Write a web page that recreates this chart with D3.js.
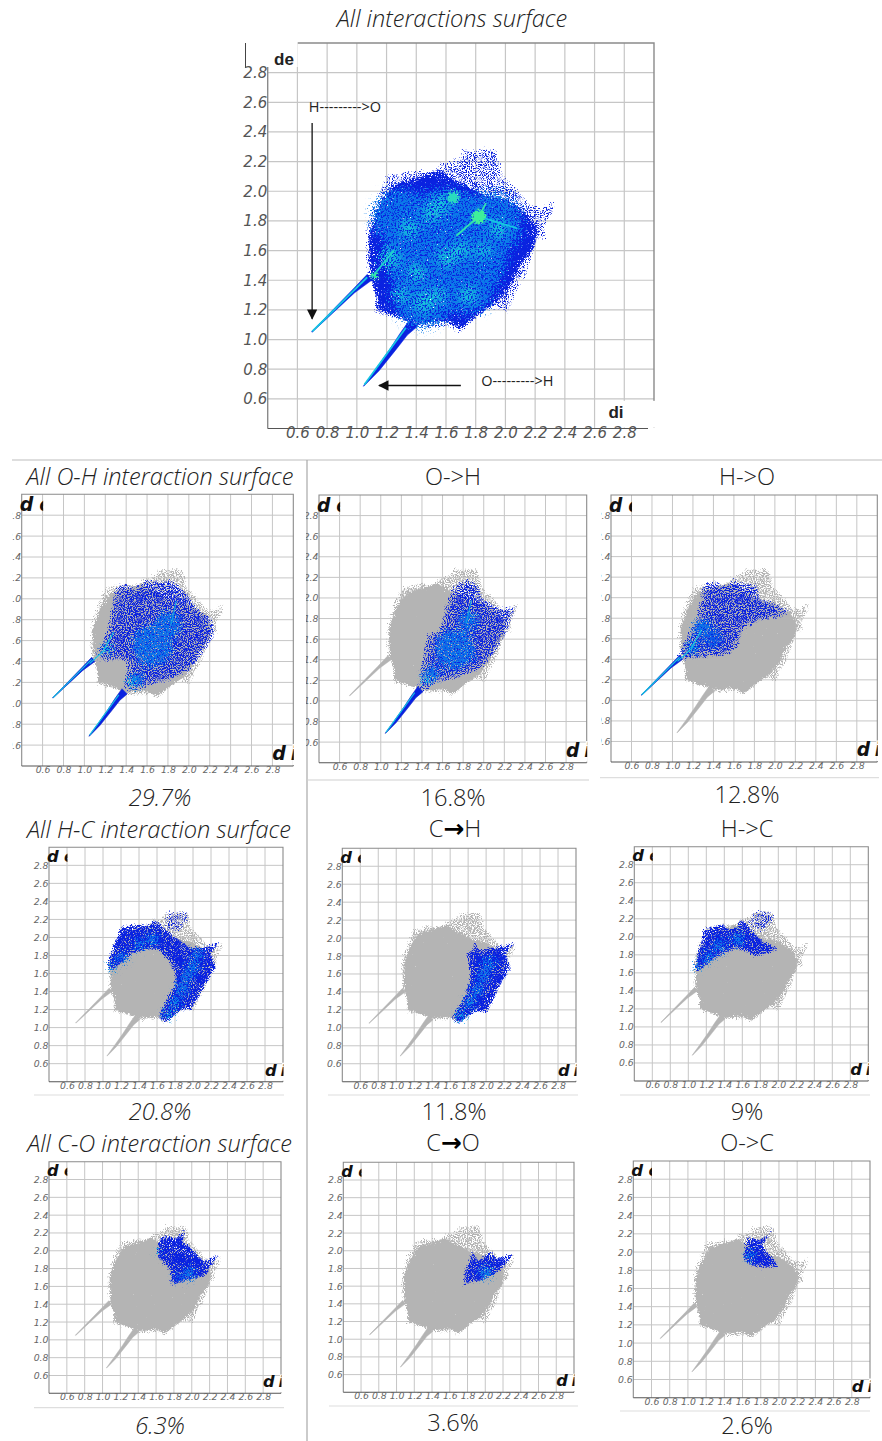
<!DOCTYPE html>
<html><head><meta charset="utf-8">
<script src="https://cdn.jsdelivr.net/npm/d3@7/dist/d3.min.js"></script>
<style>html,body{margin:0;padding:0;background:#fff}svg{display:block}</style>
</head><body><div id="c"></div>
<script>
// ---- values (di, de in Å) ----
const axisDomain = [0.4, 3.0];
const tickLabels = ["0.6","0.8","1.0","1.2","1.4","1.6","1.8","2.0","2.2","2.4","2.6","2.8"];

const silhouetteOutline = [[1.077,1.422],[1.061,1.534],[1.066,1.736],[1.088,1.825],[1.133,1.96],[1.2,2.105],[1.312,2.128],[1.413,2.15],[1.536,2.117],[1.559,2.217],[1.603,2.195],[1.693,2.24],[1.715,2.296],[1.783,2.273],[1.872,2.296],[1.939,2.285],[1.973,2.217],[1.984,2.117],[2.096,2.005],[2.163,1.915],[2.242,1.893],[2.342,1.96],[2.331,1.87],[2.264,1.758],[2.286,1.669],[2.208,1.657],[2.186,1.557],[2.141,1.422],[2.074,1.31],[2.018,1.176],[1.895,1.22],[1.783,1.109],[1.693,1.041],[1.626,1.086],[1.536,1.075],[1.413,1.075],[1.346,1.131],[1.223,1.153],[1.122,1.171],[1.133,1.288],[1.106,1.377]];
const silhouetteCore = [[1.09,1.42],[1.08,1.7],[1.15,1.9],[1.25,2.05],[1.42,2.1],[1.55,2.15],[1.62,2.1],[1.72,2.05],[1.85,1.98],[2.0,1.95],[2.15,1.85],[2.22,1.75],[2.2,1.62],[2.1,1.5],[2.05,1.38],[1.95,1.25],[1.8,1.15],[1.7,1.07],[1.6,1.12],[1.4,1.1],[1.2,1.18],[1.13,1.2],[1.13,1.3]];
const spikeUpper = [[0.695,1.052],[0.97,1.335],[1.07,1.44],[1.10,1.40],[0.985,1.315],[0.70,1.05]];
const spikeLower = [[1.043,0.685],[1.13,0.805],[1.225,0.94],[1.29,1.04],[1.36,1.14],[1.41,1.09],[1.34,1.03],[1.27,0.94],[1.15,0.79],[1.05,0.688]];

const blueAllOH = [[1.10,1.397],[1.417,1.413],[1.387,1.142],[1.419,1.104],[1.594,1.158],[1.784,1.206],[2.006,1.30],[2.15,1.49],[2.26,1.668],[2.228,1.81],[2.07,1.923],[2.006,2.035],[1.864,2.178],[1.784,2.178],[1.594,2.178],[1.467,2.1],[1.403,2.147],[1.308,2.13],[1.276,1.94],[1.213,1.652],[1.118,1.46]];
const blueOtoH = [[1.344,1.074],[1.424,1.445],[1.457,1.655],[1.569,1.671],[1.634,1.929],[1.73,2.139],[1.859,2.187],[1.956,2.12],[2.0,1.99],[2.15,1.897],[2.326,1.929],[2.278,1.8],[2.23,1.67],[2.117,1.477],[1.988,1.316],[1.73,1.213],[1.553,1.181],[1.457,1.106]];
const blueHtoO = [[1.041,1.411],[1.236,1.80],[1.285,2.028],[1.317,2.141],[1.414,2.164],[1.495,2.109],[1.56,2.141],[1.593,2.19],[1.723,2.141],[1.836,2.125],[1.852,1.995],[2.047,1.93],[2.177,1.866],[2.047,1.80],[1.852,1.775],[1.674,1.67],[1.658,1.525],[1.56,1.444],[1.30,1.411],[1.09,1.395]];
const blueAllHC = [[1.054,1.709],[1.09,1.82],[1.164,2.023],[1.2,2.116],[1.40,2.153],[1.53,2.134],[1.566,2.208],[1.658,2.134],[1.804,2.005],[1.987,1.894],[2.134,1.894],[2.317,1.957],[2.207,1.82],[2.262,1.672],[2.152,1.487],[1.987,1.19],[1.877,1.19],[1.694,1.044],[1.62,1.10],[1.658,1.228],[1.786,1.45],[1.804,1.598],[1.731,1.746],[1.62,1.857],[1.511,1.868],[1.328,1.82],[1.182,1.69],[1.09,1.617]];
const blueCtoH = [[1.873,2.01],[1.928,1.862],[2.04,1.899],[2.188,1.917],[2.337,1.954],[2.225,1.824],[2.28,1.657],[2.15,1.453],[2.02,1.175],[1.873,1.175],[1.687,1.038],[1.624,1.119],[1.78,1.379],[1.828,1.60],[1.791,1.824],[1.873,1.899]];
const blueHtoC = [[1.075,1.669],[1.112,1.834],[1.186,2.092],[1.39,2.148],[1.446,2.092],[1.557,2.11],[1.576,2.221],[1.669,2.129],[1.798,1.982],[2.021,1.86],[1.873,1.816],[1.743,1.779],[1.65,1.834],[1.539,1.871],[1.39,1.816],[1.205,1.687],[1.112,1.613]];
const blueAllCO = [[1.616,1.977],[1.646,2.164],[1.739,2.164],[1.832,2.145],[1.944,2.257],[1.907,2.108],[2.0,2.033],[2.13,1.883],[2.316,1.965],[2.205,1.808],[2.167,1.715],[1.981,1.677],[1.776,1.61],[1.765,1.771],[1.683,1.864],[1.616,1.92]];
const blueCtoO = [[1.752,1.615],[1.771,1.766],[1.865,2.01],[1.921,1.879],[2.053,2.01],[2.128,1.916],[2.323,1.961],[2.203,1.803],[2.109,1.728],[1.921,1.653]];
const blueOtoC = [[1.612,1.968],[1.66,2.169],[1.788,2.133],[1.952,2.254],[1.824,2.078],[2.007,1.839],[1.824,1.821],[1.696,1.858],[1.623,1.913]];
const blueCapHC = [[1.66,2.13],[1.72,2.29],[1.95,2.29],[1.97,2.2],[1.85,2.05],[1.75,2.05]];

// density spots: di, de, radius in di, colour level
const hotMain = [[1.6,1.6,0.42,1.1],[1.3,1.82,0.2,1.1],[1.9,1.78,0.22,1.1],[1.45,1.3,0.22,1.1],[1.75,1.35,0.18,1.1],
 [1.22,1.55,0.07,2.1],[1.35,1.75,0.06,2.1],[1.5,1.85,0.06,2.1],[1.45,1.25,0.07,2.1],[1.6,1.55,0.06,2.1],[1.95,1.75,0.06,2.1],[1.75,1.3,0.06,2.1],[1.4,1.45,0.06,2.1],[1.7,1.6,0.06,2.1],[1.57,1.92,0.06,2.1],[1.85,1.6,0.05,2.1],[1.3,1.3,0.05,2.1],[1.55,1.3,0.05,2.1],
 [1.65,1.96,0.028,2.5],[1.82,1.83,0.035,3],[1.12,1.43,0.014,2.8]];
const hotAllOH = [[1.65,1.55,0.2,1],[1.8,1.75,0.13,1],[1.5,1.22,0.08,1],[1.45,1.2,0.04,1.9],[1.22,1.52,0.05,1.5]];
const hotOtoH = [[1.72,1.5,0.2,1],[1.85,1.78,0.1,1],[1.5,1.27,0.08,1],[1.44,1.2,0.04,1.9]];
const hotHtoO = [[1.3,1.7,0.1,1],[1.2,1.52,0.07,1.2],[1.4,1.6,0.1,0.7]];
const hotAllHC = [[1.1,1.68,0.05,1.3],[1.22,1.78,0.07,1],[1.4,1.92,0.07,1],[1.55,1.98,0.08,1],[1.73,1.15,0.06,1.4],[1.8,1.28,0.07,1.2],[1.88,1.42,0.08,1],[1.93,1.56,0.08,1],[2.0,1.68,0.08,1],[2.05,1.82,0.07,1]];
const hotCtoH = [[1.72,1.14,0.06,1.5],[1.82,1.28,0.07,1.2],[1.9,1.42,0.08,1],[1.97,1.58,0.08,1],[2.03,1.72,0.08,1]];
const hotHtoC = [[1.1,1.68,0.05,1.3],[1.22,1.78,0.07,1],[1.35,1.9,0.08,1],[1.55,1.97,0.08,1.1]];
const hotAllCO = [[1.63,1.97,0.03,1.9],[1.97,1.74,0.08,1],[1.85,1.7,0.05,0.8]];
const hotCtoO = [[2.0,1.75,0.08,1.1],[2.02,1.75,0.02,1.9]];
const hotOtoC = [[1.66,1.98,0.035,1.9],[1.7,1.95,0.06,1]];

// bright ridges: polyline, colour level
const ridgeUpper = [[0.7,1.055],[1.07,1.42]];
const ridgeLower = [[1.05,0.695],[1.33,1.08]];
const ridgeInnerH = [[1.05,1.38],[1.18,1.5],[1.28,1.68]];
const ridgeInnerO = [[1.83,1.75],[1.88,1.98]];
const ridgeMainA = [[1.67,1.7],[1.82,1.83],[1.87,1.92]];
const ridgeMainB = [[1.82,1.83],[2.08,1.75]];
const ridgeMainC = [[1.1,1.42],[1.25,1.6]];

const labelsH2O = "H--------->O";
const labelsO2H = "O--------->H";

// ---- page layout ----
const W = 882, H = 1441;
const GRAY = "#b4b4b4", FONT = "'Open Sans','Noto Sans',sans-serif";
const colorOf = d3.scaleLinear().domain([0,1,2,3]).range(["#0a22e0","#0a72ea","#14c6e2","#3ff09a"]);

const panels = [
 {id:"main",l:267.7,r:654,t:43,b:428.5,main:true,blue:[silhouetteOutline],hot:hotMain,spikes:[spikeUpper,spikeLower],ridges:[[ridgeUpper,2],[ridgeLower,2],[ridgeMainA,2.7],[ridgeMainB,2],[ridgeMainC,2.3]]},
 {id:"a",l:21.7,r:293.3,t:494.3,b:766,clip:12.3,grainId:"gBlueThin",blue:[blueAllOH],hot:hotAllOH,spikes:[spikeUpper,spikeLower],ridges:[[ridgeUpper,2],[ridgeLower,2],[ridgeInnerH,2],[ridgeInnerO,1.6]]},
 {id:"b",l:319,r:586.7,t:495,b:762.7,clip:306,grainId:"gBlueThin",blue:[blueOtoH],hot:hotOtoH,spikes:[spikeLower],ridges:[[ridgeLower,2],[ridgeInnerO,1.6]]},
 {id:"c",l:611,r:877.3,t:495,b:762,clip:601,grainId:"gBlueThin",blue:[blueHtoO],hot:hotHtoO,spikes:[spikeUpper],ridges:[[ridgeUpper,2],[ridgeInnerH,2]]},
 {id:"d",l:49,r:283,t:847.3,b:1081.7,blue:[blueAllHC],sparse:[blueCapHC],hot:hotAllHC,spikes:[],ridges:[]},
 {id:"e",l:342.3,r:576,t:848.3,b:1081.7,blue:[blueCtoH],hot:hotCtoH,spikes:[],ridges:[]},
 {id:"f",l:634.3,r:868.3,t:846.7,b:1081,blue:[blueHtoC],sparse:[blueCapHC],hot:hotHtoC,spikes:[],ridges:[]},
 {id:"g",l:49,r:281,t:1161.7,b:1393.3,blue:[blueAllCO],hot:hotAllCO,spikes:[],ridges:[]},
 {id:"h",l:343.3,r:574,t:1162.3,b:1392.3,blue:[blueCtoO],hot:hotCtoO,spikes:[],ridges:[]},
 {id:"i",l:633.3,r:870,t:1161,b:1397.7,blue:[blueOtoC],hot:hotOtoC,spikes:[],ridges:[]}
];

const TS = 23.6;
const titles = [
 ["All interactions surface",452,27,true],
 ["All O-H interaction surface",160,485,true],["O->H",453,485,false],["H->O",747,485,false],
 ["29.7%",160,806,true],["16.8%",453,806,false],["12.8%",747,803,false],
 ["All H-C interaction surface",159,838,true],["H->C",747,837,false],
 ["20.8%",160,1120,true],["11.8%",454,1120,false],["9%",747,1120,false],
 ["All C-O interaction surface",159.5,1152,true],["O->C",747,1151,false],
 ["6.3%",160,1433.5,true],["3.6%",453,1431,false],["2.6%",747,1434,false]
];
const arrowTitles = [["C","H",455,837],["C","O",453,1151]];
const rules = [[12,460,882,460,"#bdbdbd"],[307,460,307,1441,"#a8a8a8"],[307,780,589,780,"#cfcfcf"],[600,777.7,879,777.7,"#dedede"],
 [34,1095,284,1095,"#dedede"],[328,1095,578,1095,"#dedede"],[620,1095,870,1095,"#dedede"],
 [34,1407.7,284,1407.7,"#dedede"],[329,1406,578,1406,"#dedede"],[620,1411,870,1411,"#dedede"]];

const svg = d3.select("#c").append("svg").attr("width",W).attr("height",H).attr("viewBox",`0 0 ${W} ${H}`);
const defs = svg.append("defs");

// stippled look: edge-roughened shape whose dots thin out towards its border
function grain(id,{seed,freq,disp,blur,gain,thresh}){
  const f = defs.append("filter").attr("id",id).attr("x","-8%").attr("y","-8%").attr("width","116%").attr("height","116%")
    .attr("color-interpolation-filters","sRGB");
  f.append("feTurbulence").attr("type","fractalNoise").attr("baseFrequency",freq).attr("numOctaves",2).attr("seed",seed).attr("result","n");
  f.append("feDisplacementMap").attr("in","SourceGraphic").attr("in2","n").attr("scale",disp).attr("xChannelSelector","R").attr("yChannelSelector","G").attr("result","d");
  f.append("feColorMatrix").attr("in","n").attr("type","matrix").attr("values","0 0 0 0 0 0 0 0 0 0 0 0 0 0 0 1 0 0 0 0").attr("result","na");
  f.append("feGaussianBlur").attr("in","d").attr("stdDeviation",blur).attr("result","ba");
  f.append("feComposite").attr("in","na").attr("in2","ba").attr("operator","arithmetic").attr("k1",0).attr("k2",1).attr("k3",gain).attr("k4",0).attr("result","sum");
  const t = f.append("feComponentTransfer").attr("in","sum").attr("result","mask");
  t.append("feFuncA").attr("type","linear").attr("slope",7).attr("intercept",-7*thresh+0.5);
  f.append("feComposite").attr("in","d").attr("in2","mask").attr("operator","in").attr("result","o");
  f.append("feGaussianBlur").attr("in","o").attr("stdDeviation",0.3);
}
// soft density clouds: blurred spots kept in full colour and cut into dots
function cloud(id,{seed,freq,blur,gain,thresh}){
  const f = defs.append("filter").attr("id",id).attr("x","-30%").attr("y","-30%").attr("width","160%").attr("height","160%")
    .attr("color-interpolation-filters","sRGB");
  f.append("feTurbulence").attr("type","fractalNoise").attr("baseFrequency",freq).attr("numOctaves",2).attr("seed",seed).attr("result","n");
  f.append("feColorMatrix").attr("in","n").attr("type","matrix").attr("values","0 0 0 0 0 0 0 0 0 0 0 0 0 0 0 1 0 0 0 0").attr("result","na");
  f.append("feGaussianBlur").attr("in","SourceGraphic").attr("stdDeviation",blur).attr("result","b");
  f.append("feComposite").attr("in","na").attr("in2","b").attr("operator","arithmetic").attr("k1",0).attr("k2",1).attr("k3",gain).attr("k4",0).attr("result","sum");
  const t = f.append("feComponentTransfer").attr("in","sum").attr("result","mask");
  t.append("feFuncA").attr("type","linear").attr("slope",7).attr("intercept",-7*thresh+0.5);
  const s = f.append("feComponentTransfer").attr("in","b").attr("result","solid");
  s.append("feFuncA").attr("type","linear").attr("slope",8);
  f.append("feComposite").attr("in","solid").attr("in2","mask").attr("operator","in").attr("result","o");
  f.append("feGaussianBlur").attr("in","o").attr("stdDeviation",0.35);
}
grain("gFringe",{seed:3,freq:0.9,disp:5,blur:2.5,gain:0.3,thresh:0.78});
grain("gDense",{seed:8,freq:0.9,disp:6,blur:2,gain:0.5,thresh:0.62});
grain("gBlue",{seed:5,freq:0.95,disp:6,blur:2.5,gain:0.3,thresh:0.67});
grain("gBlueThin",{seed:5,freq:0.95,disp:6,blur:5,gain:0.26,thresh:0.72});
grain("gSparse",{seed:11,freq:0.95,disp:4,blur:3,gain:0.3,thresh:0.84});
grain("gMain",{seed:4,freq:0.7,disp:6,blur:4,gain:0.42,thresh:0.7});
cloud("cMainSoft",{seed:9,freq:0.6,blur:5,gain:0.28,thresh:0.72});
cloud("cMainHot",{seed:6,freq:0.6,blur:2,gain:0.6,thresh:0.6});
cloud("cSubSoft",{seed:12,freq:0.85,blur:3,gain:0.3,thresh:0.73});
const soft = defs.append("filter").attr("id","soft").attr("x","-40%").attr("y","-40%").attr("width","180%").attr("height","180%");
soft.append("feGaussianBlur").attr("stdDeviation",0.5);

defs.append("marker").attr("id","ah").attr("viewBox","0 0 10 10").attr("refX",9).attr("refY",5).attr("markerWidth",9).attr("markerHeight",8).attr("orient","auto")
  .append("path").attr("d","M0,0L10,5L0,10Z").attr("fill","#111");

svg.append("g").selectAll("line").data(rules).join("line")
  .attr("x1",d=>d[0]).attr("y1",d=>d[1]).attr("x2",d=>d[2]).attr("y2",d=>d[3]).attr("stroke",d=>d[4]).attr("stroke-width",1.2);

const tickVals = tickLabels.map(Number);

panels.forEach(p=>{
  const x = d3.scaleLinear().domain(axisDomain).range([p.l,p.r]);
  const y = d3.scaleLinear().domain(axisDomain).range([p.b,p.t]);
  const poly = d3.line().x(d=>x(d[0])).y(d=>y(d[1])).curve(d3.curveLinearClosed);
  const path = d3.line().x(d=>x(d[0])).y(d=>y(d[1]));
  const g = svg.append("g").attr("class","panel-"+p.id);
  const scale = (p.r-p.l)/272;

  // grid
  g.append("g").selectAll("line").data(tickVals).join("line")
    .attr("x1",d=>x(d)).attr("x2",d=>x(d)).attr("y1",p.t).attr("y2",p.b).attr("stroke","#c6c6c6").attr("stroke-width",p.main?1.2:1);
  g.append("g").selectAll("line").data(tickVals).join("line")
    .attr("y1",d=>y(d)).attr("y2",d=>y(d)).attr("x1",p.l).attr("x2",p.r).attr("stroke","#c6c6c6").attr("stroke-width",p.main?1.2:1);
  // frame
  g.append("path").attr("d",`M${p.l},${p.b}V${p.t}H${p.r}V${p.b}`).attr("fill","none").attr("stroke","#8a8a8a").attr("stroke-width",p.main?1.4:1.1);
  g.append("path").attr("d",`M${p.l},${p.b}H${p.r}`).attr("fill","none").attr("stroke","#555").attr("stroke-width",1.1);

  // all contacts in grey (main panel is entirely coloured)
  if(!p.main){
    g.append("path").attr("d",poly(silhouetteOutline)).attr("fill",GRAY).attr("filter","url(#gFringe)");
    g.append("path").attr("d",poly(silhouetteCore)).attr("fill",GRAY).attr("filter","url(#gDense)");
    [spikeUpper,spikeLower].forEach(s=>g.append("path").attr("d",poly(s)).attr("fill",GRAY).attr("stroke",GRAY).attr("stroke-width",0.5));
  }
  // selected contacts in blue
  const base = colorOf(0);
  if(p.main){
    g.append("path").attr("d",poly(silhouetteOutline)).attr("fill",base).attr("filter","url(#gSparse)");
    g.append("path").attr("d",poly(silhouetteCore)).attr("fill",base).attr("filter","url(#gMain)");
  } else {
    (p.sparse||[]).forEach(s=>g.append("path").attr("d",poly(s)).attr("fill",base).attr("filter","url(#gSparse)"));
    p.blue.forEach(s=>g.append("path").attr("d",poly(s)).attr("fill",base).attr("filter",`url(#${p.grainId||"gBlue"})`));
  }
  p.spikes.forEach(s=>g.append("path").attr("d",poly(s)).attr("fill",base).attr("stroke",base).attr("stroke-width",0.5));
  // density spots
  const softSpots = p.hot.filter(d=>d[3]<2.5), hotSpots = p.hot.filter(d=>d[3]>=2.5);
  const drawSpots = (data,fid)=>{
    if(!data.length) return;
    g.append("g").attr("filter",`url(#${fid})`).selectAll("circle").data(data).join("circle")
      .attr("cx",d=>x(d[0])).attr("cy",d=>y(d[1])).attr("r",d=>x(d[2])-x(0)).attr("fill",d=>colorOf(d[3]));
  };
  drawSpots(softSpots,p.main?"cMainSoft":"cSubSoft");
  const rg = g.append("g").attr("filter","url(#soft)");
  p.ridges.forEach(r=>rg.append("path").attr("d",path(r[0])).attr("fill","none").attr("stroke",colorOf(r[1])).attr("stroke-width",p.main?1.8:1.1));
  drawSpots(hotSpots,"cMainHot");

  // white cover around axis captions
  if(p.main){
    g.append("rect").attr("x",p.l-3).attr("y",p.t-2).attr("width",33).attr("height",26).attr("fill","#fff");
    g.append("rect").attr("x",p.r-48).attr("y",y(0.6)+2).attr("width",50).attr("height",p.b-y(0.6)-3).attr("fill","#fff");
    g.append("line").attr("x1",245.5).attr("x2",245.5).attr("y1",43).attr("y2",68).attr("stroke","#444").attr("stroke-width",1);
    g.append("path").attr("d",`M${p.r-6},${p.b}H${p.r+2}`).attr("stroke","#fff").attr("stroke-width",2);
  } else {
    g.append("line").attr("x1",p.r).attr("x2",p.r).attr("y1",p.b-22*scale).attr("y2",p.b-1).attr("stroke","#fff").attr("stroke-width",2);
  }

  // axes
  const fs = p.main?15:9.3;
  const ax = g.append("g").attr("transform",`translate(0,${p.b+(p.main?4:3.6)})`)
    .call(d3.axisBottom(x).tickValues(tickVals).tickSize(0).tickPadding(0).tickFormat((d,i)=>tickLabels[i]));
  ax.select(".domain").remove();
  ax.selectAll("text").attr("dy","0.35em").attr("y",0);
  let clipId = null;
  if(p.clip!==undefined){
    clipId = "clip-"+p.id;
    defs.append("clipPath").attr("id",clipId).append("rect").attr("x",p.clip).attr("y",p.t).attr("width",p.l-p.clip+1).attr("height",p.b-p.t);
  }
  const ay = g.append("g").attr("transform",`translate(${p.l-0.5},0)`)
    .call(d3.axisLeft(y).tickValues(tickVals).tickSize(0).tickPadding(0).tickFormat((d,i)=>tickLabels[i]));
  ay.select(".domain").remove();
  if(clipId){ // labels are cut by the crop of the source picture
    const wrap = g.append("g").attr("clip-path",`url(#${clipId})`);
    wrap.node().appendChild(ay.node());
  }
  [ax,ay].forEach(a=>a.selectAll("text").attr("font-family","'DejaVu Sans',sans-serif").attr("font-style","italic").attr("font-size",fs).attr("fill",p.main?"#555":"#666"));

  // axis captions
  const capFont = "'DejaVu Sans',sans-serif";
  if(p.main){
    g.append("text").attr("x",284).attr("y",65).attr("text-anchor","middle").attr("font-family","'Liberation Sans',sans-serif").attr("font-weight",700).attr("font-size",17).attr("fill","#222").text("de");
    g.append("text").attr("x",616).attr("y",418).attr("text-anchor","middle").attr("font-family","'Liberation Sans',sans-serif").attr("font-weight",700).attr("font-size",17).attr("fill","#222").text("di");
    const arrow = (a,b)=>g.append("line").attr("x1",x(a[0])).attr("y1",y(a[1])).attr("x2",x(b[0])).attr("y2",y(b[1])).attr("stroke","#111").attr("stroke-width",1.3).attr("marker-end","url(#ah)");
    arrow([0.699,2.46],[0.699,1.14]);
    arrow([1.70,0.69],[1.15,0.69]);
    g.append("text").attr("x",x(0.92)).attr("y",y(2.57)).attr("dy","0.35em").attr("text-anchor","middle").attr("font-family",FONT).attr("font-size",14.5).attr("fill","#222").text(labelsH2O);
    g.append("text").attr("x",x(2.08)).attr("y",y(0.72)).attr("dy","0.35em").attr("text-anchor","middle").attr("font-family",FONT).attr("font-size",14.5).attr("fill","#222").text(labelsO2H);
  } else {
    const capId = "cap-"+p.id;
    const cs = 19*scale;
    defs.append("clipPath").attr("id",capId).append("rect").attr("x",p.l-4).attr("y",p.t+1).attr("width",p.r-p.l+4.5).attr("height",p.b-p.t);
    const cap = g.append("g").attr("clip-path",`url(#${capId})`).attr("font-family",capFont).attr("font-weight",700).attr("font-style","italic").attr("fill","#111").attr("font-size",cs);
    cap.append("text").attr("x",p.l-2).attr("y",p.t+17*scale).text("d");
    // the "e" and the "i" are cut off in the source image
    const eId = "capE-"+p.id;
    defs.append("clipPath").attr("id",eId).append("rect").attr("x",p.l+17.5*scale).attr("y",p.t).attr("width",4*scale).attr("height",24);
    g.append("g").attr("clip-path",`url(#${eId})`).append("text").attr("x",p.l+17.5*scale).attr("y",p.t+17*scale).attr("font-family",capFont).attr("font-weight",700).attr("font-style","italic").attr("fill","#111").attr("font-size",cs).text("e");
    cap.append("text").attr("x",p.r-21*scale).attr("y",p.b-6).text("d");
    cap.append("text").attr("x",p.r-2.5).attr("y",p.b-6).text("i");
  }
});

// titles
svg.append("g").selectAll("text").data(titles).join("text")
  .attr("x",d=>d[1]).attr("y",d=>d[2]).attr("text-anchor","middle").attr("font-family",FONT).attr("font-weight",300)
  .attr("font-style",d=>d[3]?"italic":"normal").attr("font-size",TS).attr("fill","#222").text(d=>d[0]);
arrowTitles.forEach(d=>{
  const t = svg.append("text").attr("x",d[2]).attr("y",d[3]).attr("text-anchor","middle").attr("font-family",FONT).attr("font-weight",300).attr("font-size",TS).attr("fill","#222");
  t.append("tspan").text(d[0]);
  t.append("tspan").attr("font-family","'DejaVu Sans',sans-serif").attr("font-weight",700).attr("font-size",25).attr("fill","#000").text("→");
  t.append("tspan").text(d[1]);
});
</script></body></html>
